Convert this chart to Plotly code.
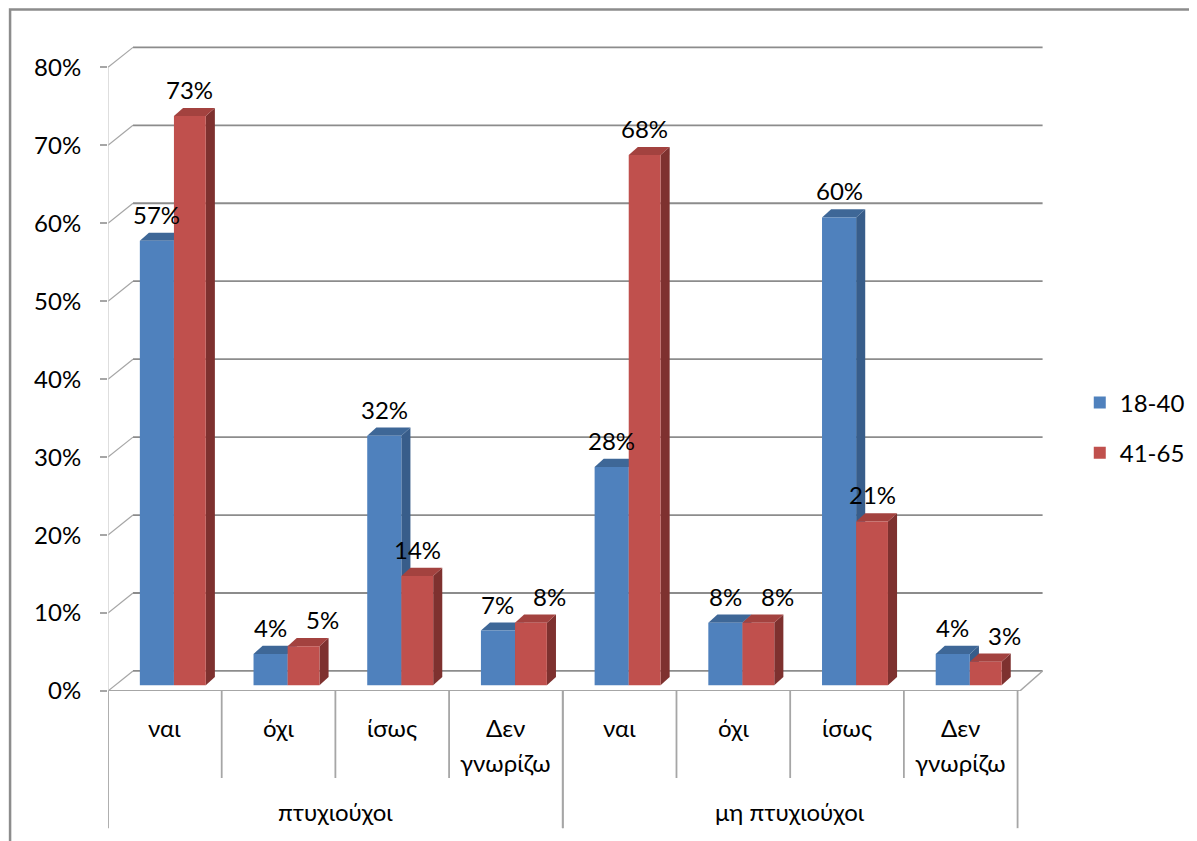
import plotly.graph_objects as go

groups = ["πτυχιούχοι"] * 4 + ["μη πτυχιούχοι"] * 4
answers = ["ναι", "όχι", "ίσως", "Δεν γνωρίζω"] * 2
series_names = ["18-40", "41-65"]
young = [0.57, 0.04, 0.32, 0.07, 0.28, 0.08, 0.60, 0.04]
older = [0.73, 0.05, 0.14, 0.08, 0.68, 0.08, 0.21, 0.03]
y_ticks = [0.0, 0.1, 0.2, 0.3, 0.4, 0.5, 0.6, 0.7, 0.8]

front = ["#4F81BD", "#C0504D"]
top_c = ["#3E6797", "#A3423F"]
side_c = ["#385D8A", "#7E312F"]
offsets = [-0.22, 0.08]
widths = [0.30, 0.28]

FONT = "Lato, 'Noto Sans', sans-serif"
GRID = "#8C8C8C"
LIGHT = "#A6A6A6"

DX, DY = 0.08, 0.0105        # bar depth (x units, y units)
WX, WY = 0.22, 0.0257        # wall depth
LIFT = 0.0075                # bars stand slightly back on the floor

n = len(answers)
series_vals = [young, older]
fig = go.Figure()
shapes = []
annotations = []

# back-wall gridlines, connectors and floor
for v in y_ticks:
    shapes.append(dict(type="line", xref="x", yref="y", x0=-0.5 + WX, x1=n - 0.5 + WX,
                       y0=v + WY, y1=v + WY, line=dict(color=GRID, width=1.8), layer="between"))
    shapes.append(dict(type="line", xref="x", yref="y", x0=-0.5, x1=-0.5 + WX,
                       y0=v, y1=v + WY, line=dict(color=LIGHT, width=1.2), layer="between"))
shapes.append(dict(type="line", xref="x", yref="y", x0=-0.5, x1=n - 0.48, y0=0, y1=0,
                   line=dict(color=LIGHT, width=1.8), layer="between"))
shapes.append(dict(type="line", xref="x", yref="y", x0=n - 0.48, x1=n - 0.5 + WX, y0=0, y1=WY,
                   line=dict(color=LIGHT, width=1.5), layer="between"))
shapes.append(dict(type="line", xref="x", yref="y", x0=-0.5, x1=-0.5, y0=0, y1=y_ticks[-1],
                   line=dict(color="#C8C8C8", width=1.2), layer="between"))

for s, (name, vals) in enumerate(zip(series_names, series_vals)):
    fig.add_trace(go.Bar(
        x=[groups, answers], y=vals, base=[LIFT] * n, name=name,
        offset=offsets[s], width=widths[s],
        marker=dict(color=front[s], line=dict(width=0)),
        legendgroup=name, hoverinfo="y",
    ))
    for i, v in enumerate(vals):
        xl = i + offsets[s]
        xr = xl + widths[s]
        yt = v + LIFT
        # side face
        shapes.append(dict(type="path", xref="x", yref="y", layer="between",
                           path=f"M {xr},{LIFT} L {xr+DX},{LIFT+DY} L {xr+DX},{yt+DY} L {xr},{yt} Z",
                           fillcolor=side_c[s], line=dict(width=0)))
        # top face
        shapes.append(dict(type="path", xref="x", yref="y", layer="between",
                           path=f"M {xl},{yt} L {xl+DX},{yt+DY} L {xr+DX},{yt+DY} L {xr},{yt} Z",
                           fillcolor=top_c[s], line=dict(width=0)))
        # push the second label aside when both labels sit at about the same height
        other = series_vals[1 - s][i]
        xshift = 19 if (s == 1 and abs(v - other) < 0.05) else 0
        annotations.append(dict(x=(xl + xr) / 2, y=yt, xref="x", yref="y",
                                text=f"{round(v*100)}%", showarrow=False,
                                yanchor="bottom", yshift=10, xshift=xshift,
                                font=dict(size=24, color="black", family=FONT)))

# category axis labels and dividers
for i, a in enumerate(answers):
    parts = a.split(" ")
    for k, p in enumerate(parts):
        annotations.append(dict(x=i, y=[-0.0557, -0.1100][k], xref="x", yref="paper",
                                text=p, showarrow=False, yanchor="middle",
                                font=dict(size=24, color="black", family=FONT)))
    if i < n - 1 and groups[i] == groups[i + 1]:
        shapes.append(dict(type="line", xref="x", yref="paper", x0=i + 0.5, x1=i + 0.5,
                           y0=0, y1=-0.1345, line=dict(color=LIGHT, width=1.8)))

group_names = list(dict.fromkeys(groups))
for g in group_names:
    idx = [i for i, gg in enumerate(groups) if gg == g]
    annotations.append(dict(x=(idx[0] + idx[-1]) / 2, y=-0.187, xref="x", yref="paper",
                            text=g, showarrow=False, yanchor="middle",
                            font=dict(size=24, color="black", family=FONT)))
    for xb in (idx[0] - 0.5, idx[-1] + 0.5):
        shapes.append(dict(type="line", xref="x", yref="paper", x0=xb, x1=xb,
                           y0=0, y1=-0.212, line=dict(color=LIGHT, width=1.8)))

# outer frame
shapes.append(dict(type="rect", xref="paper", yref="paper",
                   x0=-0.1044, x1=1.3, y0=-0.4, y1=1.0532,
                   line=dict(color=GRID, width=2.5), layer="below"))

fig.update_layout(
    width=1197, height=841,
    margin=dict(l=100, r=158.6, t=36.4, b=158, autoexpand=False),
    paper_bgcolor="white", plot_bgcolor="rgba(0,0,0,0)",
    barmode="overlay",
    font=dict(family=FONT, size=24, color="black"),
    showlegend=True,
    legend=dict(x=1.036, y=0.4067, xanchor="left", yanchor="middle",
                font=dict(size=24), tracegroupgap=16, traceorder="grouped",
                bgcolor="rgba(0,0,0,0)"),
    xaxis=dict(type="multicategory", range=[-0.5, n - 0.25], showticklabels=False,
               showline=False, showgrid=False, zeroline=False, ticks="",
               showdividers=False),
    yaxis=dict(range=[0, 0.83], tickvals=y_ticks, tickformat=".0%",
               showgrid=False, showline=False, zeroline=False,
               ticks="outside", ticklen=7, tickcolor=LIGHT, tickwidth=1.5,
               ticklabelstandoff=14, tickfont=dict(size=24)),
    shapes=shapes, annotations=annotations,
)

fig.write_html("out.html")
